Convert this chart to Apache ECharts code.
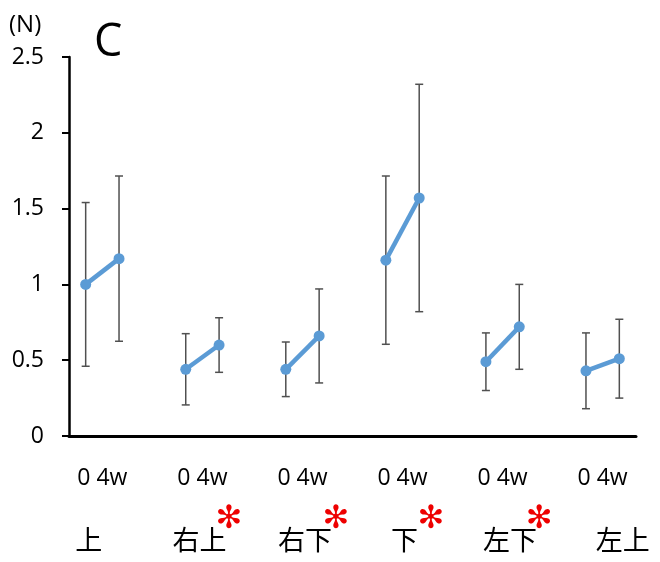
<!DOCTYPE html>
<html><head><meta charset="utf-8">
<script src="https://cdn.jsdelivr.net/npm/echarts@6/dist/echarts.min.js"></script>
<style>html,body{margin:0;padding:0;background:#fff}#c{width:660px;height:562px}</style>
</head><body><div id="c"></div>
<script>
// ---- data ----
const groups = ['上', '右上', '右下', '下', '左下', '左上'];
const significant = [false, true, true, true, true, false];
const timePoints = ['0', '4w'];
const mean0  = [1.00, 0.44, 0.44, 1.16, 0.49, 0.43];
const mean4w = [1.17, 0.60, 0.66, 1.57, 0.72, 0.51];
const sd0  = [0.54, 0.235, 0.18, 0.555, 0.19, 0.25];
const sd4w = [0.545, 0.18, 0.31, 0.75, 0.28, 0.26];
const yTicks = [0, 0.5, 1, 1.5, 2, 2.5];

// ---- layout only (not data) ----
const nameShift = [-13.5, -3, 2.5, 2, 7.5, 20];
const starShift = [0, 26.5, 33.5, 28.5, 36.5, 0];
const SLOTS_PER_GROUP = 3;

const chart = echarts.init(document.getElementById('c'), null, {renderer: 'canvas'});
const blue = '#5B9BD5';
const latin = "'Open Sans', sans-serif";
const cjk = "'Noto Sans CJK JP', sans-serif";

const slot = (g, t) => SLOTS_PER_GROUP * g + 0.5 + t;

const lineSeries = groups.map((name, g) => ({
  type: 'line',
  name: name,
  data: [[slot(g, 0), mean0[g]], [slot(g, 1), mean4w[g]]],
  symbol: 'circle',
  symbolSize: 11,
  lineStyle: {color: blue, width: 4.5},
  itemStyle: {color: blue},
  z: 3,
  silent: true
}));

const errData = [];
groups.forEach((name, g) => {
  errData.push([slot(g, 0), mean0[g] - sd0[g], mean0[g] + sd0[g]]);
  errData.push([slot(g, 1), mean4w[g] - sd4w[g], mean4w[g] + sd4w[g]]);
});

const rich = {
  t: {fontFamily: latin, fontSize: 23, color: '#000', lineHeight: 55},
  e: {fontSize: 10, lineHeight: 28}
};
groups.forEach((name, g) => {
  const d = nameShift[g];
  rich['n' + g] = {
    fontFamily: cjk, fontSize: 27, color: '#000', lineHeight: 12,
    padding: d >= 0 ? [0, 0, 0, 2 * d] : [0, -2 * d, 0, 0]
  };
  rich['s' + g] = {
    fontFamily: "'DejaVu Sans', sans-serif", fontSize: 32, color: '#ee0000', lineHeight: 28,
    padding: [0, 0, 0, 2 * starShift[g]]
  };
});

const option = {
  animation: false,
  backgroundColor: '#fff',
  grid: {left: 69, right: 24, top: 57, bottom: 126, containLabel: false, outerBoundsMode: 'none'},
  xAxis: {
    type: 'value',
    min: 0,
    max: SLOTS_PER_GROUP * groups.length - 1,
    interval: 1,
    splitLine: {show: false},
    axisTick: {show: false},
    axisLine: {show: true, onZero: false, lineStyle: {color: '#000', width: 3}},
    axisLabel: {
      margin: 15,
      hideOverlap: false,
      showMinLabel: true,
      showMaxLabel: true,
      formatter: (v) => {
        const k = Math.round(v) - 1;
        if (k < 0 || k % SLOTS_PER_GROUP !== 0) return '';
        const g = k / SLOTS_PER_GROUP;
        if (g >= groups.length) return '';
        const star = significant[g] ? `{s${g}|✻}` : '{e| }';
        return `{t|${timePoints.join(' ')}}\n${star}\n{n${g}|${groups[g]}}`;
      },
      rich: rich
    }
  },
  yAxis: {
    type: 'value',
    min: yTicks[0],
    max: yTicks[yTicks.length - 1],
    interval: yTicks[1] - yTicks[0],
    splitLine: {show: false},
    axisLine: {show: true, lineStyle: {color: '#000', width: 2.5}},
    axisTick: {show: true, inside: false, length: 7, lineStyle: {color: '#000', width: 2}},
    axisLabel: {margin: 25, color: '#000', fontFamily: latin, fontSize: 23}
  },
  graphic: [
    {type: 'text', left: 9, top: 13, style: {text: '(N)', fontFamily: latin, fontSize: 24, fill: '#000'}},
    {type: 'text', left: 94, top: 21, style: {text: 'C', fontFamily: latin, fontSize: 45, fill: '#000'}}
  ],
  series: [
    {
      type: 'custom',
      silent: true,
      z: 1,
      data: errData,
      encode: {x: 0, y: [1, 2]},
      renderItem: (params, api) => {
        const x = api.value(0), lo = api.value(1), hi = api.value(2);
        const a = api.coord([x, hi]);
        const b = api.coord([x, lo]);
        const w = 4;
        const st = {stroke: '#505050', lineWidth: 1.5};
        return {
          type: 'group',
          children: [
            {type: 'line', shape: {x1: a[0], y1: a[1], x2: b[0], y2: b[1]}, style: st},
            {type: 'line', shape: {x1: a[0] - w, y1: a[1], x2: a[0] + w, y2: a[1]}, style: st},
            {type: 'line', shape: {x1: b[0] - w, y1: b[1], x2: b[0] + w, y2: b[1]}, style: st}
          ]
        };
      }
    }
  ].concat(lineSeries)
};
chart.setOption(option);
</script>
</body></html>
